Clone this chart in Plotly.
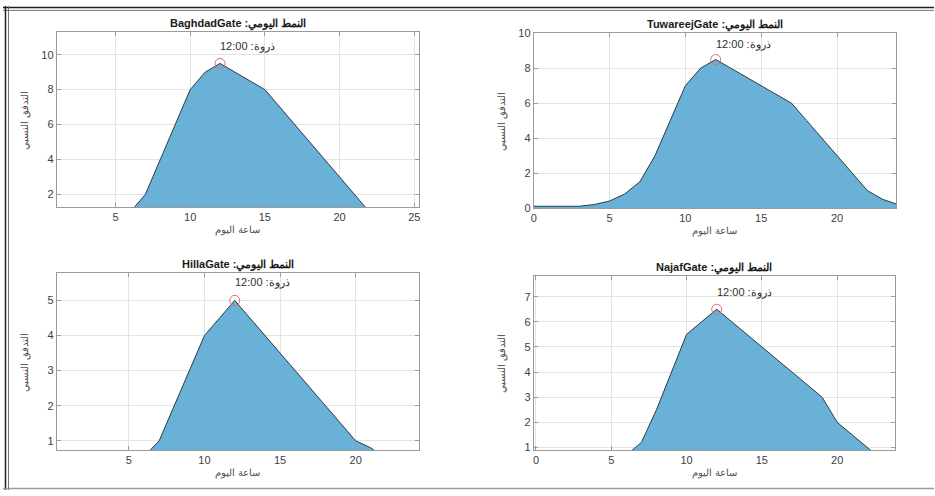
import plotly.graph_objects as go

# Hourly relative-flow profiles per city gate
gates = ["BaghdadGate", "TuwareejGate", "HillaGate", "NajafGate"]

hours_24 = list(range(24))
hours_25 = list(range(25))

baghdad_flow = [0.5, 0.5, 0.5, 0.5, 0.5, 0.6, 1.0, 2.0, 4.0, 6.0, 8.0, 9.0,
                9.5, 9.0, 8.5, 8.0, 7.0, 6.0, 5.0, 4.0, 3.0, 2.0, 1.0, 0.5]
tuwareej_flow = [0.1, 0.1, 0.1, 0.1, 0.2, 0.4, 0.8, 1.5, 3.0, 5.0, 7.0, 8.0,
                 8.5, 8.0, 7.5, 7.0, 6.5, 6.0, 5.0, 4.0, 3.0, 2.0, 1.0, 0.5, 0.2]
hilla_flow = [0.3, 0.3, 0.3, 0.3, 0.3, 0.4, 0.55, 1.0, 2.0, 3.0, 4.0, 4.5,
              5.0, 4.5, 4.0, 3.5, 3.0, 2.5, 2.0, 1.5, 1.0, 0.8, 0.5, 0.3]
najaf_flow = [0.3, 0.3, 0.3, 0.3, 0.3, 0.5, 0.7, 1.2, 2.5, 4.0, 5.5, 6.0,
              6.5, 6.0, 5.5, 5.0, 4.5, 4.0, 3.5, 3.0, 2.0, 1.5, 1.0, 0.5]

series_x = [hours_24, hours_25, hours_24, hours_24]
series_y = [baghdad_flow, tuwareej_flow, hilla_flow, najaf_flow]

x_ranges = [[1.07, 25.33], [0, 23.9], [0.23, 24.2], [-0.15, 23.85]]
y_ranges = [[1.28, 11.28], [0, 10], [0.74, 5.77], [0.9, 7.81]]
y_dticks = [2, 2, 1, 1]

title_prefix = "النمط اليومي"
x_label = "ساعة اليوم"
y_label = "التدفق النسبي"
peak_word = "ذروة"

W, H = 935, 496

# axes boxes in pixels: (left, right, top, bottom)
boxes = [(54, 418, 27, 206), (533, 897, 28, 207),
         (54, 418, 274, 455), (533, 896, 277, 455)]

FILL = "rgb(106,177,216)"
EDGE = "#2b3a44"
AXC = "#9a9a9a"
GRID = "#e3e3e3"
FONT = "Liberation Sans, Arial, sans-serif"

fig = go.Figure()
annotations = []
shapes = []

for i, (gate, xs, ys) in enumerate(zip(gates, series_x, series_y)):
    n = i + 1
    xa = "x" if n == 1 else f"x{n}"
    ya = "y" if n == 1 else f"y{n}"
    l, r, t, b = boxes[i]

    fig.add_trace(go.Scatter(
        x=xs, y=ys, mode="lines", fill="tozeroy", fillcolor=FILL,
        line=dict(color=EDGE, width=1), xaxis=xa, yaxis=ya,
        showlegend=False, hoverinfo="skip"))

    peak_val = max(ys)
    peak_hour = xs[ys.index(peak_val)]
    fig.add_trace(go.Scatter(
        x=[peak_hour], y=[peak_val], mode="markers",
        marker=dict(symbol="circle-open", size=10,
                    line=dict(color="#e06a6a", width=1), color="#e06a6a"),
        xaxis=xa, yaxis=ya, showlegend=False, hoverinfo="skip"))

    annotations.append(dict(
        x=peak_hour, y=peak_val * 1.1, xref=xa, yref=ya,
        text=f"{peak_hour}:00 :{peak_word}", showarrow=False,
        xanchor="left", yanchor="middle", xshift=-2,
        font=dict(family=FONT, size=11, color="#303030")))

    xdom = [l / W, r / W]
    ydom = [1 - b / H, 1 - t / H]
    axis_common = dict(
        showline=True, linecolor=AXC, linewidth=1, mirror="ticks",
        ticks="inside", ticklen=4, tickcolor=AXC,
        showgrid=True, gridcolor=GRID, gridwidth=1, zeroline=False,
        tickfont=dict(family=FONT, size=11, color="#404040"))
    fig.update_layout({
        ("xaxis" if n == 1 else f"xaxis{n}"): dict(
            domain=xdom, anchor=ya, range=x_ranges[i], dtick=5, tick0=0,
            **axis_common),
        ("yaxis" if n == 1 else f"yaxis{n}"): dict(
            domain=ydom, anchor=xa, range=y_ranges[i], dtick=y_dticks[i],
            tick0=0, **axis_common),
    })

    cx = (l + r) / 2 / W
    annotations.append(dict(
        x=cx, y=1 - (t - 9) / H, xref="paper", yref="paper",
        text=f"<b>{gate} :{title_prefix}</b>", showarrow=False,
        xanchor="center", yanchor="middle",
        font=dict(family=FONT, size=11, color="#1a1a1a")))
    annotations.append(dict(
        x=cx, y=1 - (b + 24) / H, xref="paper", yref="paper",
        text=x_label, showarrow=False, xanchor="center", yanchor="middle",
        font=dict(family=FONT, size=10, color="#505050")))
    annotations.append(dict(
        x=(l - 32) / W, y=1 - (t + b) / 2 / H, xref="paper", yref="paper",
        text=y_label, showarrow=False, textangle=-90,
        xanchor="center", yanchor="middle",
        font=dict(family=FONT, size=10, color="#505050")))

# outer frame lines
def hline(y, color, width):
    shapes.append(dict(type="line", xref="paper", yref="paper",
                       x0=0, x1=1, y0=1 - y / H, y1=1 - y / H,
                       line=dict(color=color, width=width)))

def vline(x, color, width):
    shapes.append(dict(type="line", xref="paper", yref="paper",
                       x0=x / W, x1=x / W, y0=0, y1=1,
                       line=dict(color=color, width=width)))

hline(1.5, "#202020", 1.5)
hline(4.5, "#707070", 1)
vline(2.5, "#202020", 1.5)
vline(5.5, "#707070", 1)
hline(494.5, "#9a9a9a", 1.5)

fig.update_layout(
    width=W, height=H, margin=dict(l=0, r=0, t=0, b=0),
    paper_bgcolor="white", plot_bgcolor="white",
    annotations=annotations, shapes=shapes, showlegend=False)

fig.write_html("out.html")
